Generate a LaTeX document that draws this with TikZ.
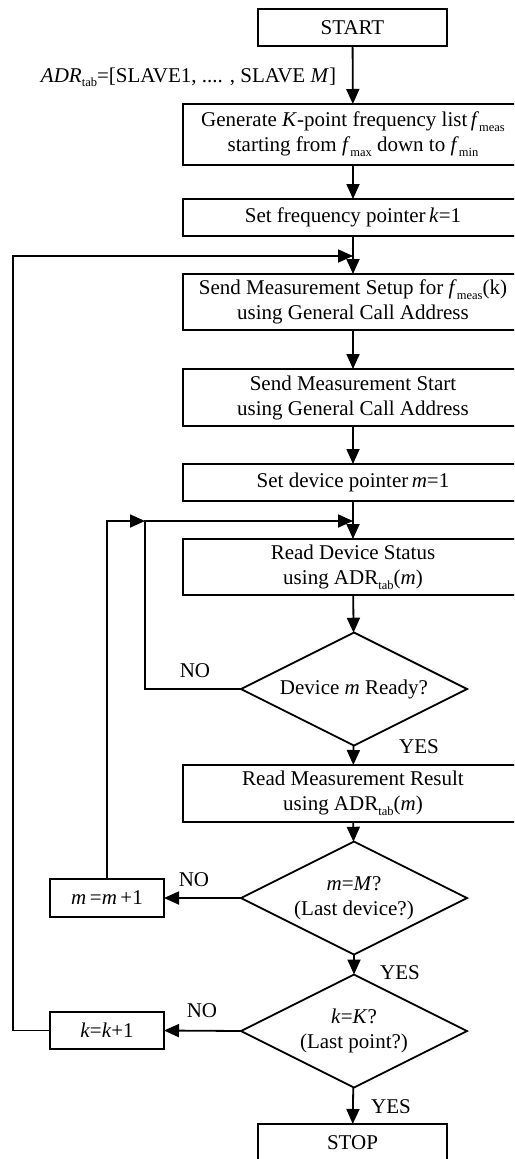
\documentclass[tikz,border=0pt]{standalone}
\usepackage{fontspec}
\setmainfont{Liberation Serif}
\usetikzlibrary{arrows.meta,shapes.geometric}
\newcommand{\sbx}[1]{\raisebox{-0.5ex}{\fontsize{12.5}{12.5}\selectfont #1}}
\begin{document}
\begin{tikzpicture}[x=1pt,y=-1pt,
  font=\fontsize{21}{25}\selectfont,
  every node/.style={inner sep=0pt, outer sep=0pt},
  arr/.style={line width=1.8pt,-{Triangle[length=15pt,width=13pt]}},
  box/.style={draw, line width=1.8pt, minimum width=340pt, align=center},
  termbox/.style={draw, line width=1.8pt, minimum width=189pt, minimum height=37pt, align=center},
  smallbox/.style={draw, line width=1.8pt, minimum width=114pt, minimum height=38pt, align=center},
  decision/.style={draw, line width=1.8pt, shape=diamond, aspect=2, minimum width=226pt, minimum height=113pt, align=center}
]
\useasboundingbox (0,0) rectangle (514,1159);
\clip (0,0) rectangle (514,1159);

\node[termbox] (start) at (352.5,27.5) {START};
\node[anchor=base east] (adr) at (336,82) {\textit{ADR}\sbx{tab}=[SLAVE1, .... , SLAVE \textit{M}]};
\node[box, minimum height=61pt] (gen) at (353,134.5) {Generate \textit{K}-point frequency list\,\textit{f}\sbx{meas}\\starting from \textit{f}\sbx{max} down to \textit{f}\sbx{min}};
\node[box, minimum height=37pt] (setk) at (353,217.5) {Set frequency pointer\,\textit{k}=1};
\node[box, minimum height=56pt] (setup) at (353,302) {Send Measurement Setup for \textit{f}\sbx{meas}(k)\\using General Call Address};
\node[box, minimum height=57pt] (mstart) at (353,397.5) {Send Measurement Start\\using General Call Address};
\node[box, minimum height=37pt] (setm) at (353,482.5) {Set device pointer\,\textit{m}=1};
\node[box, minimum height=56pt] (readst) at (353,567) {Read Device Status\\using ADR\sbx{tab}(\textit{m})};
\node[decision] (d1) at (354,689) {Device \textit{m} Ready?};
\node[box, minimum height=57pt] (readres) at (353,793.5) {Read Measurement Result\\using ADR\sbx{tab}(\textit{m})};
\node[decision] (d2) at (354,898) {\textit{m}=\textit{M}?\\(Last device?)};
\node[smallbox] (minc) at (107,898) {\textit{m}\,=\textit{m}\,+1};
\node[decision] (d3) at (354,1031) {\textit{k}=\textit{K}?\\(Last point?)};
\node[smallbox, minimum height=37pt] (kinc) at (107,1030.5) {\textit{k}=\textit{k}+1};
\node[termbox] (stop) at (352.5,1142.5) {STOP};

\node (no1) at (195,671) {NO};
\node (yes1) at (419,747) {YES};
\node (no2) at (194,880) {NO};
\node (yes2) at (400,973) {YES};
\node (no3) at (202,1011) {NO};
\node (yes3) at (391,1107) {YES};

\coordinate (kl) at (13,256);
\coordinate (j1) at (353,256);
\coordinate (mj) at (145,521);
\coordinate (j2) at (353,521);

\draw[arr] (start) -- (gen);
\draw[arr] (gen) -- (setk);
\draw[arr] (setk) -- (setup);
\draw[arr] (setup) -- (mstart);
\draw[arr] (mstart) -- (setm);
\draw[arr] (setm) -- (readst);
\draw[arr] (readst) -- (d1);
\draw[arr] (d1) -- (readres);
\draw[arr] (readres) -- (d2);
\draw[arr] (d2) -- (d3);
\draw[arr] (d3) -- (stop);
\draw[arr] (d2.west) -- (minc.east);
\draw[arr] (d3.west) -- (kinc.east);
\draw[arr] (kinc.west) -| (kl) -- (j1);
\draw[arr] (minc.north) |- (mj);
\draw[arr] (d1.west) -| (mj) -- (j2);
\end{tikzpicture}
\end{document}
